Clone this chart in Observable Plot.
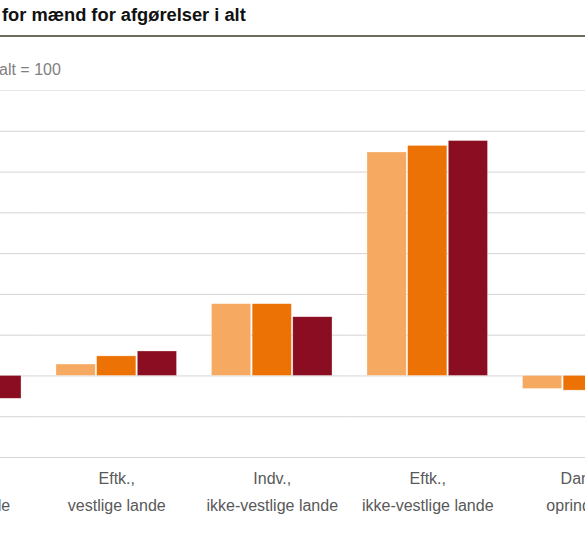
<!DOCTYPE html>
<html>
<head>
<meta charset="utf-8">
<script src="https://cdn.jsdelivr.net/npm/d3@7"></script>
<script src="https://cdn.jsdelivr.net/npm/@observablehq/plot@0.6"></script>
<style>
  body { margin: 0; background: white; }
  #wrap { position: relative; width: 585px; height: 534px; overflow: hidden;
          font-family: "Liberation Sans", Arial, sans-serif; background: white; }
  #chart { position: absolute; left: -117.25px; top: 0; }
  .title { position: absolute; left: 2px; top: 4.5px; font-size: 18.3px; line-height: 20px;
           font-weight: bold; color: #111; white-space: nowrap; }
  .rule { position: absolute; left: 0; top: 35px; width: 585px; height: 2px; background: #6d6c5c; }
  .sub { position: absolute; left: -1px; top: 61px; font-size: 16px; line-height: 18px;
         color: #808080; white-space: nowrap; }
</style>
</head>
<body>
<div id="wrap">
  <div id="chart"></div>
  <div class="title">for mænd for afgørelser i alt</div>
  <div class="rule"></div>
  <div class="sub">alt = 100</div>
</div>
<script>
// groups along the x axis (left and right ones are cut off by the frame)
const categories = [
  "Indv.,\nvestlige lande",
  "Eftk.,\nvestlige lande",
  "Indv.,\nikke-vestlige lande",
  "Eftk.,\nikke-vestlige lande",
  "Dansk\noprindelse"
];
const series = ["2017", "2018", "2019"];
const colors = ["#f5a961", "#ec7206", "#8b0d21"];

// index values, afgørelser i alt = 100 (one array per series)
const values2017 = [90, 107, 144, 237, 92];
const values2018 = [88, 112, 144, 241, 91];
const values2019 = [86, 115, 136, 244, 90];

const yTicks = [50, 75, 100, 125, 150, 175, 200, 225, 250, 275];

const rows = [];
[values2017, values2018, values2019].forEach((vals, s) => {
  vals.forEach((v, i) => rows.push({category: categories[i], series: series[s], value: v}));
});

const plot = Plot.plot({
  width: 777.5,
  height: 534,
  marginTop: 90,
  marginBottom: 77,
  marginLeft: 0,
  marginRight: 0,
  style: {maxWidth: "none", background: "transparent", overflow: "visible"},
  fx: {domain: categories, axis: null, padding: 0, round: false},
  x: {domain: series, axis: null, paddingInner: 0.035, paddingOuter: 0.43, round: false},
  y: {domain: [50, 275], axis: null},
  color: {domain: series, range: colors},
  marks: [
    Plot.ruleY(yTicks, {stroke: d => d == 275 ? "#e6e6e6" : "#d4d4d4", strokeWidth: 1}),
    Plot.barY(rows, {
      fx: "category", x: "series", y1: 100, y2: "value",
      fill: "series", stroke: "white", strokeOpacity: 0.5, strokeWidth: 0.6
    }),
    Plot.text(categories, {
      fx: d => d, text: d => d,
      frameAnchor: "bottom", lineAnchor: "top", textAnchor: "middle",
      dy: 7, lineHeight: 1.7,
      fontSize: 16, fill: "#595959",
      fontFamily: "Liberation Sans, Arial, sans-serif"
    })
  ]
});

document.querySelector("#chart").append(plot);
</script>
</body>
</html>
